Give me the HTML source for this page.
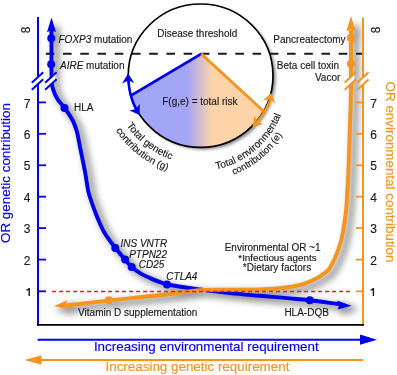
<!DOCTYPE html>
<html><head><meta charset="utf-8"><style>
html,body{margin:0;padding:0;background:#fff;width:397px;height:375px;overflow:hidden;}
svg{display:block;will-change:transform;}
text{font-family:"Liberation Sans",sans-serif;font-size:10px;fill:#1a1a1a;stroke:#1a1a1a;stroke-width:0.15px;}
.it{font-style:italic;}
.big{font-size:13.4px;}
</style></head><body>
<svg width="397" height="375" viewBox="0 0 397 375">
<defs>
<linearGradient id="fillg" gradientUnits="userSpaceOnUse" x1="187" y1="0" x2="212" y2="0">
<stop offset="0" stop-color="#a3a5f6"/>
<stop offset="1" stop-color="#fdd4a8"/>
</linearGradient>
<filter id="sh" x="-30%" y="-30%" width="160%" height="160%">
<feGaussianBlur stdDeviation="3.5"/>
</filter>
<filter id="sh2" x="-20%" y="-20%" width="140%" height="140%"><feGaussianBlur stdDeviation="1.5"/></filter>
</defs>

<!-- shadows -->
<g filter="url(#sh)" transform="translate(4.5,3.5)" opacity="0.45">
<path d="M51.50,30.00 C51.50,36.67 51.50,43.33 51.50,50.00 C51.50,57.33 51.37,64.67 51.50,72.00 C51.57,76.34 51.65,80.70 52.10,85.00 C52.28,86.77 52.85,88.51 53.40,90.20 C53.98,91.97 54.67,93.73 55.50,95.40 C56.37,97.16 57.34,98.91 58.50,100.50 C60.38,103.08 62.76,105.29 64.60,107.90 C67.59,112.13 70.64,116.42 73.00,121.00 C74.77,124.45 75.93,128.26 77.00,132.00 C78.00,135.49 78.48,139.13 79.20,142.70 C79.91,146.23 80.59,149.77 81.30,153.30 C82.02,156.87 82.79,160.43 83.50,164.00 C84.23,167.66 84.95,171.32 85.60,175.00 C86.55,180.42 87.11,185.94 88.30,191.30 C89.11,194.94 90.41,198.46 91.60,202.00 C92.81,205.60 94.14,209.16 95.50,212.70 C96.87,216.26 98.22,219.83 99.80,223.30 C101.45,226.93 103.07,230.63 105.20,234.00 C108.24,238.80 111.81,243.29 115.30,247.80 C118.41,251.83 121.68,255.74 125.00,259.60 C127.15,262.10 129.26,264.69 131.70,266.90 C134.26,269.22 137.05,271.40 140.00,273.20 C143.15,275.13 146.61,276.59 150.00,278.10 C153.28,279.56 156.64,280.85 160.00,282.10 C162.37,282.98 164.72,284.04 167.20,284.50 C178.05,286.51 189.04,288.00 200.00,289.50 C209.98,290.87 219.98,292.05 230.00,293.10 C239.98,294.15 250.00,294.92 260.00,295.80 C270.00,296.68 280.00,297.50 290.00,298.40 C296.60,299.00 303.21,299.54 309.80,300.30 C319.88,301.47 329.93,302.90 340.00,304.20" fill="none" stroke="#000" stroke-width="6"/>
<path d="M351.00,30.00 C351.00,36.67 351.00,43.33 351.00,50.00 C351.00,57.33 351.00,64.67 351.00,72.00 C351.00,78.00 351.13,84.00 351.00,90.00 C350.63,106.67 350.06,123.34 349.50,140.00 C349.06,153.34 348.56,166.67 348.00,180.00 C347.83,184.00 347.56,188.00 347.30,192.00 C346.89,198.33 346.68,204.69 346.00,211.00 C345.24,218.03 344.23,225.04 343.00,232.00 C342.33,235.81 341.38,239.59 340.30,243.30 C339.25,246.89 338.00,250.43 336.60,253.90 C335.13,257.53 333.49,261.12 331.70,264.60 C330.73,266.49 329.79,268.53 328.30,270.00 C325.85,272.43 322.84,274.43 319.90,276.30 C317.08,278.09 314.05,279.63 311.00,281.00 C307.82,282.43 304.55,283.74 301.20,284.70 C297.55,285.74 293.75,286.36 290.00,287.00 C286.69,287.56 283.35,288.03 280.00,288.30 C273.35,288.83 266.67,289.21 260.00,289.40 C250.01,289.68 240.00,289.57 230.00,289.70 C220.00,289.83 209.96,289.49 200.00,290.20 C189.96,290.92 180.01,292.83 170.00,294.00 C160.01,295.17 150.00,296.12 140.00,297.20 C129.60,298.32 119.20,299.43 108.80,300.60 C94.53,302.20 80.27,303.87 66.00,305.50" fill="none" stroke="#000" stroke-width="6"/>
<path d="M51.5,22 L55,32 L48,32 Z M351,21 L354.5,31 L347.5,31 Z M351.5,305.8 L337,300.5 L337.5,309.5 Z M53.8,306.3 L67.3,300.3 L68.3,309.1 Z" stroke="#000" stroke-width="3" stroke-linejoin="round"/>
<g>
<circle cx="351" cy="37.9" r="4"/><circle cx="351" cy="63.8" r="4"/><circle cx="108.8" cy="300.2" r="4"/>
<circle cx="51.3" cy="38.2" r="4"/><circle cx="51.2" cy="64.2" r="4"/><circle cx="64.5" cy="107.9" r="4"/>
<circle cx="115.3" cy="247.9" r="4"/><circle cx="125.1" cy="259.6" r="4"/><circle cx="131.7" cy="266.9" r="4"/>
<circle cx="167" cy="284.6" r="4"/><circle cx="309.8" cy="300.2" r="4"/>
</g>
</g>
<ellipse cx="203.4" cy="78" rx="72.4" ry="71.7" fill="#000" opacity="0.45" filter="url(#sh2)"/>
<ellipse cx="200.6" cy="75.7" rx="72.4" ry="71.7" fill="#fff"/>

<!-- circle fill -->
<path d="M201.2,53.9 L131,95.3 A72.4,71.7 0 0 0 263.6,111 Z" fill="url(#fillg)"/>
<!-- circle outline -->
<ellipse cx="200.6" cy="75.7" rx="72.4" ry="71.7" fill="none" stroke="#000" stroke-width="1.7"/>

<!-- dashed threshold -->
<line x1="45.8" y1="53.8" x2="362" y2="53.8" stroke="#1a1a1a" stroke-width="2" stroke-dasharray="8.6 8.63"/>

<!-- axes -->
<line x1="38" y1="17" x2="38" y2="325.8" stroke="#0000f0" stroke-width="2"/>
<line x1="363" y1="17.5" x2="363" y2="325.8" stroke="#f7941d" stroke-width="2"/>
<line x1="37" y1="324.9" x2="364" y2="324.9" stroke="#000" stroke-width="1.8"/>
<!-- left ticks -->
<g stroke="#0000f0" stroke-width="1.8">
<line x1="38" y1="102.4" x2="46" y2="102.4"/>
<line x1="38" y1="133.8" x2="46" y2="133.8"/>
<line x1="38" y1="165.3" x2="46" y2="165.3"/>
<line x1="38" y1="196.7" x2="46" y2="196.7"/>
<line x1="38" y1="228.1" x2="46" y2="228.1"/>
<line x1="38" y1="259.6" x2="46" y2="259.6"/>
<line x1="38" y1="291.3" x2="46" y2="291.3"/>
</g>
<g stroke="#f7941d" stroke-width="1.8">
<line x1="356" y1="102.4" x2="363" y2="102.4"/>
<line x1="356" y1="133.8" x2="363" y2="133.8"/>
<line x1="356" y1="165.3" x2="363" y2="165.3"/>
<line x1="356" y1="196.7" x2="363" y2="196.7"/>
<line x1="356" y1="228.1" x2="363" y2="228.1"/>
<line x1="356" y1="259.6" x2="363" y2="259.6"/>
<line x1="356" y1="291.3" x2="363" y2="291.3"/>
</g>

<!-- blue curve -->
<path d="M51.50,30.00 C51.50,36.67 51.50,43.33 51.50,50.00 C51.50,57.33 51.37,64.67 51.50,72.00 C51.57,76.34 51.65,80.70 52.10,85.00 C52.28,86.77 52.85,88.51 53.40,90.20 C53.98,91.97 54.67,93.73 55.50,95.40 C56.37,97.16 57.34,98.91 58.50,100.50 C60.38,103.08 62.76,105.29 64.60,107.90 C67.59,112.13 70.64,116.42 73.00,121.00 C74.77,124.45 75.93,128.26 77.00,132.00 C78.00,135.49 78.48,139.13 79.20,142.70 C79.91,146.23 80.59,149.77 81.30,153.30 C82.02,156.87 82.79,160.43 83.50,164.00 C84.23,167.66 84.95,171.32 85.60,175.00 C86.55,180.42 87.11,185.94 88.30,191.30 C89.11,194.94 90.41,198.46 91.60,202.00 C92.81,205.60 94.14,209.16 95.50,212.70 C96.87,216.26 98.22,219.83 99.80,223.30 C101.45,226.93 103.07,230.63 105.20,234.00 C108.24,238.80 111.81,243.29 115.30,247.80 C118.41,251.83 121.68,255.74 125.00,259.60 C127.15,262.10 129.26,264.69 131.70,266.90 C134.26,269.22 137.05,271.40 140.00,273.20 C143.15,275.13 146.61,276.59 150.00,278.10 C153.28,279.56 156.64,280.85 160.00,282.10 C162.37,282.98 164.72,284.04 167.20,284.50 C178.05,286.51 189.04,288.00 200.00,289.50 C209.98,290.87 219.98,292.05 230.00,293.10 C239.98,294.15 250.00,294.92 260.00,295.80 C270.00,296.68 280.00,297.50 290.00,298.40 C296.60,299.00 303.21,299.54 309.80,300.30 C319.88,301.47 329.93,302.90 340.00,304.20" fill="none" stroke="#0000f0" stroke-width="3.9"/>
<g fill="#0000f0">
<path d="M51.5,17.5 L56,32 L51.5,30.5 L47,32 Z"/>
<path d="M351.5,305.8 L337,300.5 L339.5,305 L337.5,309.5 Z"/>
<circle cx="51.3" cy="38.2" r="4"/>
<circle cx="51.2" cy="64.2" r="4"/>
<circle cx="64.5" cy="107.9" r="4"/>
<circle cx="115.3" cy="247.9" r="4"/>
<circle cx="125.1" cy="259.6" r="4"/>
<circle cx="131.7" cy="266.9" r="4"/>
<circle cx="167" cy="284.6" r="4"/>
<circle cx="309.8" cy="300.2" r="4"/>
</g>

<!-- orange curve -->
<path d="M351.00,30.00 C351.00,36.67 351.00,43.33 351.00,50.00 C351.00,57.33 351.00,64.67 351.00,72.00 C351.00,78.00 351.13,84.00 351.00,90.00 C350.63,106.67 350.06,123.34 349.50,140.00 C349.06,153.34 348.56,166.67 348.00,180.00 C347.83,184.00 347.56,188.00 347.30,192.00 C346.89,198.33 346.68,204.69 346.00,211.00 C345.24,218.03 344.23,225.04 343.00,232.00 C342.33,235.81 341.38,239.59 340.30,243.30 C339.25,246.89 338.00,250.43 336.60,253.90 C335.13,257.53 333.49,261.12 331.70,264.60 C330.73,266.49 329.79,268.53 328.30,270.00 C325.85,272.43 322.84,274.43 319.90,276.30 C317.08,278.09 314.05,279.63 311.00,281.00 C307.82,282.43 304.55,283.74 301.20,284.70 C297.55,285.74 293.75,286.36 290.00,287.00 C286.69,287.56 283.35,288.03 280.00,288.30 C273.35,288.83 266.67,289.21 260.00,289.40 C250.01,289.68 240.00,289.57 230.00,289.70 C220.00,289.83 209.96,289.49 200.00,290.20 C189.96,290.92 180.01,292.83 170.00,294.00 C160.01,295.17 150.00,296.12 140.00,297.20 C129.60,298.32 119.20,299.43 108.80,300.60 C94.53,302.20 80.27,303.87 66.00,305.50" fill="none" stroke="#f7941d" stroke-width="3.9"/>
<g fill="#f7941d">
<path d="M351,16 L355.5,31 L351,29.5 L346.5,31 Z"/>
<path d="M53.8,306.3 L67.3,300.3 L65.2,304.9 L68.3,309.1 Z"/>
<circle cx="351" cy="37.9" r="4"/>
<circle cx="351" cy="63.8" r="4"/>
<circle cx="108.8" cy="300.2" r="4"/>
</g>

<!-- red dashed OR=1 -->
<line x1="52.1" y1="291.5" x2="351" y2="291.5" stroke="#f0141e" stroke-width="1.6" stroke-dasharray="3.9 3.1"/>

<!-- break marks -->
<polygon points="36.2,78.6 39.8,75.4 39.8,82.6 36.2,85.8" fill="#fff"/>
<polygon points="49.0,79.2 55.4,73.4 55.4,80.5 49.0,86.3" fill="#fff"/>
<polygon points="347.8,79.7 354.2,74.0 354.2,81.2 347.8,86.9" fill="#fff"/>
<polygon points="361.2,79.0 364.8,75.8 364.8,83.0 361.2,86.2" fill="#fff"/>
<g stroke="#0000f0" stroke-width="2">
<line x1="31.8" y1="82.7" x2="43.2" y2="72.2"/>
<line x1="31.8" y1="89.8" x2="43.2" y2="79.3"/>
<line x1="45.1" y1="82.8" x2="56.6" y2="72.3"/>
<line x1="45.1" y1="89.8" x2="56.6" y2="79.3"/>
</g>
<g stroke="#f7941d" stroke-width="2">
<line x1="344.7" y1="82.5" x2="355.8" y2="72.3"/>
<line x1="344.7" y1="89.7" x2="355.8" y2="79.5"/>
<line x1="357.3" y1="82.5" x2="368.5" y2="72.3"/>
<line x1="357.3" y1="89.7" x2="368.5" y2="79.5"/>
</g>

<!-- circle arrows -->
<path d="M128.4,80 Q129.3,96 135.9,108.9" fill="none" stroke="#0000f0" stroke-width="2.6"/>
<g fill="#0000f0">
<path d="M128.1,73.4 L134.2,83 L128.3,80.6 L122,83.4 Z"/>
<path d="M139.6,115 L129.5,110.6 L135.6,108.9 L139.8,104 Z"/>
</g>
<line x1="201.2" y1="53.9" x2="131.2" y2="95.4" stroke="#0000f0" stroke-width="2.8"/>
<path d="M270.5,99.8 Q265.5,112 257.2,122" fill="none" stroke="#f7941d" stroke-width="2.6"/>
<g fill="#f7941d">
<path d="M271.3,92.9 L275.4,103.7 L270.4,99.6 L263,100.6 Z"/>
<path d="M252.4,127.2 L254.6,115.8 L257.3,122 L263.5,124 Z"/>
</g>
<line x1="201.2" y1="53.9" x2="263.4" y2="111" stroke="#f7941d" stroke-width="2.8"/>

<!-- texts -->
<text x="157.2" y="37.1">Disease threshold</text>
<text x="162.2" y="105.2">F(g,e) = total risk</text>
<text x="58.5" y="42.7"><tspan class="it">FOXP3</tspan> mutation</text>
<text x="60" y="69"><tspan class="it">AIRE</tspan> mutation</text>
<text x="74" y="111">HLA</text>
<text class="it" x="120.5" y="246.7">INS VNTR</text>
<text class="it" x="129.2" y="257.7">PTPN22</text>
<text class="it" x="138.8" y="268.4">CD25</text>
<text class="it" x="166.3" y="279.8">CTLA4</text>
<text x="224.7" y="250.9">Environmental OR ~1</text>
<text x="238.3" y="260.9" style="font-size:9.85px">*Infectious agents</text>
<text x="242.8" y="271.4">*Dietary factors</text>
<text x="284.4" y="315.6">HLA-DQB</text>
<text x="78.1" y="316.3">Vitamin D supplementation</text>
<text x="273.3" y="43.1">Pancreatectomy</text>
<text x="276.8" y="69.2">Beta cell toxin</text>
<text x="314.9" y="80.6">Vacor</text>

<defs><path id="a1l" d="M110.19,77.07 A92.0,92.0 0 0 0 222.17,162.68" fill="none"/><path id="a2l" d="M98.36,76.52 A103.8,103.8 0 0 0 223.68,174.43" fill="none"/><path id="a1r" d="M181.76,169.92 A90.2,90.2 0 0 0 287.70,81.18" fill="none"/><path id="a2r" d="M178.88,179.66 A100.3,100.3 0 0 0 297.79,82.33" fill="none"/></defs>
<text style="font-size:10.1px" text-anchor="middle"><textPath href="#a1l" startOffset="50%">Total genetic</textPath></text><text style="font-size:9.95px" text-anchor="middle"><textPath href="#a2l" startOffset="50%">contribution (g)</textPath></text><text style="font-size:10.1px" text-anchor="middle"><textPath href="#a1r" startOffset="50%">Total environmental</textPath></text><text style="font-size:9.6px" text-anchor="middle"><textPath href="#a2r" startOffset="50%">contribution (e)</textPath></text>


<!-- axis labels -->
<g font-size="11">
<text x="27" y="103.5" style="font-size:12px" text-anchor="middle" dominant-baseline="central">7</text>
<text x="27" y="134.8" style="font-size:12px" text-anchor="middle" dominant-baseline="central">6</text>
<text x="27" y="166.3" style="font-size:12px" text-anchor="middle" dominant-baseline="central">5</text>
<text x="27" y="197.8" style="font-size:12px" text-anchor="middle" dominant-baseline="central">4</text>
<text x="27" y="229.2" style="font-size:12px" text-anchor="middle" dominant-baseline="central">3</text>
<text x="27" y="260.6" style="font-size:12px" text-anchor="middle" dominant-baseline="central">2</text>
<path d="M28.5,288 L29.9,288 L29.9,296 L28.5,296 L28.5,290.2 Q27.8,290.6 26.4,290.7 L26.4,289.6 Q28.2,289.4 28.5,288 Z" fill="#1a1a1a"/>
<text x="373.5" y="103.5" style="font-size:12px" text-anchor="middle" dominant-baseline="central">7</text>
<text x="373.5" y="134.8" style="font-size:12px" text-anchor="middle" dominant-baseline="central">6</text>
<text x="373.5" y="166.3" style="font-size:12px" text-anchor="middle" dominant-baseline="central">5</text>
<text x="373.5" y="197.8" style="font-size:12px" text-anchor="middle" dominant-baseline="central">4</text>
<text x="373.5" y="229.2" style="font-size:12px" text-anchor="middle" dominant-baseline="central">3</text>
<text x="373.5" y="260.6" style="font-size:12px" text-anchor="middle" dominant-baseline="central">2</text>
<path transform="translate(344.2,0)" d="M28.5,288 L29.9,288 L29.9,296 L28.5,296 L28.5,290.2 Q27.8,290.6 26.4,290.7 L26.4,289.6 Q28.2,289.4 28.5,288 Z" fill="#1a1a1a"/>
</g>
<g transform="translate(26,29.9) rotate(-90)"><text x="0" y="0" style="font-size:12px" text-anchor="middle" dominant-baseline="central">8</text></g>
<g transform="translate(375.8,29.9) rotate(-90)"><text x="0" y="0" style="font-size:12px" text-anchor="middle" dominant-baseline="central">8</text></g>

<g transform="translate(9.8,243) rotate(-90)"><text class="big" x="0" y="0" style="fill:#0000f0;stroke:#0000f0">OR genetic contribution</text></g>
<g transform="translate(386.2,81.6) rotate(90)"><text class="big" x="0" y="0" style="fill:#f7941d;stroke:#f7941d">OR environmental contribution</text></g>

<!-- bottom arrows -->
<line x1="37.6" y1="339.7" x2="362" y2="339.7" stroke="#0000f0" stroke-width="2"/>
<path d="M377,339.7 L360,334.6 L360,344.8 Z" fill="#0000f0"/>
<text class="big" x="93.9" y="351.4" style="fill:#0000f0;stroke:#0000f0">Increasing environmental requirement</text>
<line x1="38" y1="360" x2="363" y2="360" stroke="#f7941d" stroke-width="2"/>
<path d="M24.5,360 L41.4,355.2 L41.4,364.8 Z" fill="#f7941d"/>
<text class="big" x="105.5" y="371" style="fill:#f7941d;stroke:#f7941d">Increasing genetic requirement</text>
</svg>
</body></html>
